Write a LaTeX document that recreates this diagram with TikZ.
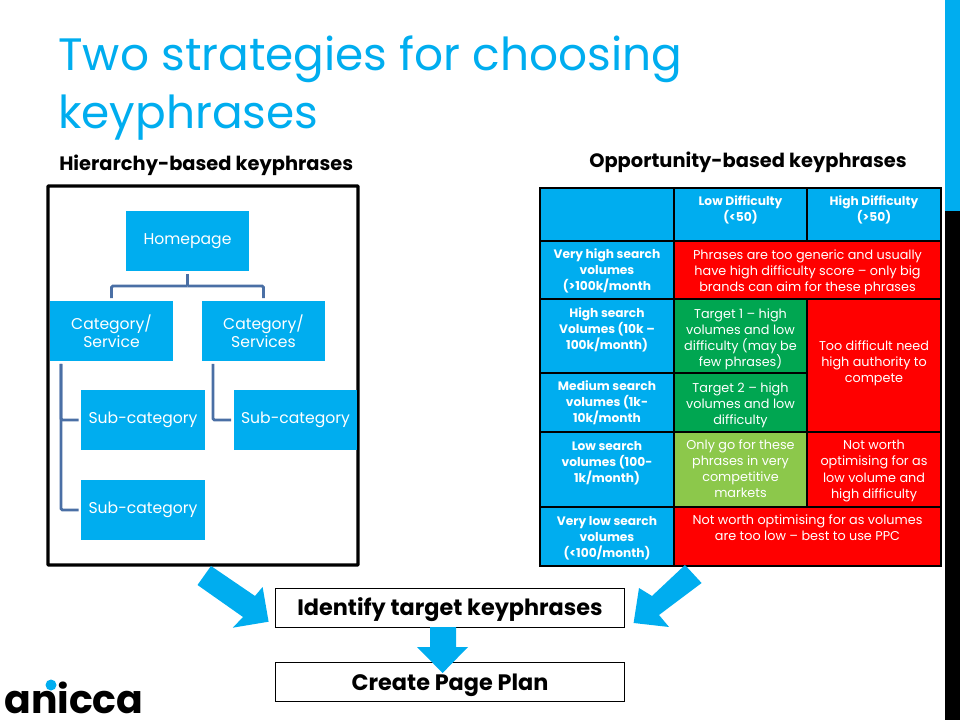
\documentclass[tikz,border=0pt]{standalone}
\usepackage{fontspec}
\setmainfont{Poppins}
\usepackage{xcolor}
\usetikzlibrary{arrows.meta,positioning,calc,shapes.geometric}
\definecolor{skyblue}{HTML}{00ADEF}
\definecolor{linkblue}{HTML}{4A6FA5}
\definecolor{hardred}{HTML}{FF0000}
\definecolor{targetgreen}{HTML}{00A651}
\definecolor{softgreen}{HTML}{8CC84B}
\tikzset{
	orgbox/.style={fill=skyblue, text=white, align=center, outer sep=2.1pt, inner sep=0pt,
		minimum width=3.075cm, minimum height=1.5cm, font=\fontsize{11.1}{12.8}\selectfont},
	orglink/.style={draw=linkblue, line width=2pt, rounded corners=1pt},
	tblcell/.style={draw=black, line width=0.8pt},
	tblhead/.style={text=white, align=center, font=\fontsize{8.7}{11.4}\selectfont\bfseries},
	tbltxt/.style={text=white, align=center, font=\fontsize{9.1}{11.4}\selectfont},
	stepbox/.style={draw=black, line width=0.7pt, fill=white, inner sep=0pt, text height=12pt, text depth=0pt,
		minimum width=8.7cm, minimum height=0.975cm, font=\fontsize{15.9}{18}\selectfont\bfseries},
	blockarrow/.style={fill=skyblue, draw=none},
	subhead/.style={anchor=west, inner sep=0pt, font=\fontsize{13.8}{16}\selectfont\bfseries}
}
\begin{document}
\begin{tikzpicture}[x=0.025cm, y=-0.025cm]
	\useasboundingbox (0,0) rectangle (960,720);
	
	% side bar
	\fill[skyblue] (945,0) rectangle (960,211);
	\fill[black] (945,211) rectangle (960,720);
	
	% title
	\node[anchor=west, inner sep=0pt, text=skyblue, align=left, font=\fontsize{32.3}{41.5}\selectfont] (title) at (58,88) {Two strategies for choosing\\keyphrases};
	\node[subhead] (hierhead) at (59,165) {Hierarchy-based keyphrases};
	\node[subhead] (opphead) at (589,162) {Opportunity-based keyphrases};
	
	% hierarchy
	\draw[black, line width=2.4pt, rounded corners=0.5pt] (48,186) rectangle (358,565);
	\node[orgbox] (home) at (187.5,241) {Homepage};
	\node[orgbox] (cat1) at (111.5,331) {Category/\\Service};
	\node[orgbox] (cat2) at (263.5,331) {Category/\\Services};
	\node[orgbox] (sub1) at (143,420) {Sub-category};
	\node[orgbox] (sub2) at (295.5,420) {Sub-category};
	\node[orgbox] (sub3) at (143,510) {Sub-category};
	
	\draw[orglink] (home.south) -- ++(0,12) coordinate (split);
	\draw[orglink] (split) -| (cat1.north);
	\draw[orglink] (split) -| (cat2.north);
	\draw[orglink] ($(cat1.south west)+(14,0)$) |- (sub1.west);
	\draw[orglink] ($(cat1.south west)+(14,0)$) |- (sub3.west);
	\draw[orglink] ($(cat2.south west)+(14,0)$) |- (sub2.west);
	
	% table cells
	\draw[tblcell, fill=skyblue] (540,188) rectangle (674,241);
	\draw[tblcell, fill=skyblue] (674,188) rectangle (807,241);
	\draw[tblcell, fill=skyblue] (807,188) rectangle (941,241);
	\draw[tblcell, fill=skyblue] (540,241) rectangle (674,299);
	\draw[tblcell, fill=hardred] (674,241) rectangle (941,299);
	\draw[tblcell, fill=skyblue] (540,299) rectangle (674,373);
	\draw[tblcell, fill=targetgreen] (674,299) rectangle (807,373);
	\draw[tblcell, fill=hardred] (807,299) rectangle (941,432);
	\draw[tblcell, fill=skyblue] (540,373) rectangle (674,432);
	\draw[tblcell, fill=targetgreen] (674,373) rectangle (807,432);
	\draw[tblcell, fill=skyblue] (540,432) rectangle (674,507);
	\draw[tblcell, fill=softgreen] (674,432) rectangle (807,507);
	\draw[tblcell, fill=hardred] (807,432) rectangle (941,507);
	\draw[tblcell, fill=skyblue] (540,507) rectangle (674,566);
	\draw[tblcell, fill=hardred] (674,507) rectangle (941,566);
	\draw[black, line width=1.6pt] (540,188) rectangle (941,566);
	
	% table text
	\node[tblhead] (lowdiff) at (740.5,210) {Low Difficulty\\(<50)};
	\node[tblhead] (highdiff) at (874,210) {High Difficulty\\(>50)};
	\node[tblhead] (vhigh) at (607,271) {Very high search\\volumes\\(>100k/month};
	\node[tbltxt] (generic) at (807.5,272) {Phrases are too generic and usually\\have high difficulty score – only big\\brands can aim for these phrases};
	\node[tblhead] (high) at (607,330) {High search\\Volumes (10k –\\100k/month)};
	\node[tbltxt] (target1) at (740.5,339) {Target 1 – high\\volumes and low\\difficulty (may be\\few phrases)};
	\node[tbltxt] (toohard) at (874,363) {Too difficult need\\high authority to\\compete};
	\node[tblhead] (medium) at (607,403) {Medium search\\volumes (1k-\\10k/month};
	\node[tbltxt] (target2) at (740.5,405) {Target 2 – high\\volumes and low\\difficulty};
	\node[tblhead] (low) at (607,463) {Low search\\volumes (100-\\1k/month)};
	\node[tbltxt] (compet) at (740.5,469) {Only go for these\\phrases in very\\competitive\\markets};
	\node[tbltxt] (notworth) at (874,471) {Not worth\\optimising for as\\low volume and\\high difficulty};
	\node[tblhead] (vlow) at (607,538) {Very low search\\volumes\\(<100/month)};
	\node[tbltxt] (ppc) at (807.5,528) {Not worth optimising for as volumes\\are too low – best to use PPC};
	
	% steps
	\node[stepbox] (identify) at (450,607.5) {Identify target keyphrases};
	\node[stepbox] (plan) at (450,682) {Create Page Plan};
	
	% block arrows
	\fill[blockarrow] (211,566) -- (255,596) -- (262.6,587) -- (268.6,621.7) -- (232.8,627.7) -- (243,617) -- (197.5,585) -- cycle;
	\fill[blockarrow] (685,565) -- (701.6,583) -- (659,615) -- (669,627) -- (633.6,623) -- (639,588) -- (652,596) -- cycle;
	\fill[blockarrow] (430,627) -- (456,627) -- (456,647) -- (468,647) -- (442.6,673) -- (417,647) -- (430,647) -- cycle;
	
	% logo
	\node[anchor=base west, inner sep=0pt, font=\fontsize{28}{30}\selectfont\bfseries] (logo) at (4,713) {anicca};
	\fill[skyblue] (51,685) circle (5.5);
\end{tikzpicture}
\end{document}
